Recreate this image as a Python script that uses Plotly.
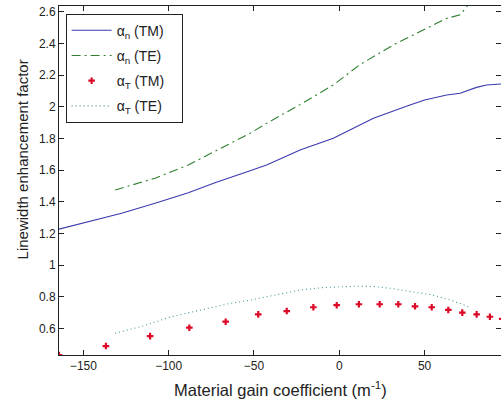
import plotly.graph_objects as go

# alpha_n (TM) - blue solid
tm_n_x = [-166, -147, -127.6, -108, -88.5, -72.9, -62.1, -52.3, -42.6, -23, -3.5, 12.1, 20, 41.4, 50, 63, 70.8, 80.5, 86.4, 95]
tm_n_y = [1.222, 1.274, 1.327, 1.39, 1.457, 1.52, 1.558, 1.595, 1.632, 1.726, 1.80, 1.884, 1.927, 2.01, 2.042, 2.074, 2.085, 2.122, 2.137, 2.143]

# alpha_n (TE) - green dash-dot
te_n_x = [-131.4, -108, -88.5, -72.9, -62.1, -52.3, -42.6, -23, -3.5, 12, 31.7, 51.2, 63, 70.8, 74.7, 78]
te_n_y = [1.474, 1.548, 1.632, 1.716, 1.779, 1.832, 1.895, 2.013, 2.137, 2.265, 2.39, 2.495, 2.558, 2.58, 2.63, 2.75]

# alpha_T (TM) - red markers
tm_t_x = [-164.3, -136.8, -110.9, -87.9, -66.6, -47.5, -30.8, -15.2, -1.5, 11.5, 23.7, 34.6, 44.4, 54.2, 63.9, 72.1, 80.5, 88.3, 95.5]
tm_t_y = [0.431, 0.488, 0.551, 0.604, 0.642, 0.688, 0.709, 0.733, 0.746, 0.752, 0.752, 0.752, 0.739, 0.733, 0.716, 0.699, 0.688, 0.673, 0.66]

# alpha_T (TE) - teal dotted
te_t_x = [-131.4, -115, -99, -80, -65, -52, -35, -23, -10, 0, 10, 20, 30, 40, 54, 65, 75.6]
te_t_y = [0.569, 0.615, 0.672, 0.72, 0.755, 0.779, 0.818, 0.842, 0.857, 0.863, 0.866, 0.864, 0.853, 0.835, 0.812, 0.779, 0.738]

x_ticks = [-150, -100, -50, 0, 50]
y_ticks = [0.6, 0.8, 1.0, 1.2, 1.4, 1.6, 1.8, 2.0, 2.2, 2.4, 2.6]
y_tick_labels = ["0.6", "0.8", "1", "1.2", "1.4", "1.6", "1.8", "2", "2.2", "2.4", "2.6"]
x_title = "Material gain coefficient (m<sup>-1</sup>)"
y_title = "Linewidth enhancement factor"

FONT = "Liberation Sans, Arial, sans-serif"
PAD = "\u00a0\u00a0\u00a0"

fig = go.Figure()
fig.add_trace(go.Scatter(x=tm_n_x, y=tm_n_y, mode="lines", name="α<sub>n</sub> (TM)" + PAD,
                         line=dict(color="#3a3aae", width=1.1), legendgroup="a"))
fig.add_trace(go.Scatter(x=te_n_x, y=te_n_y, mode="lines", name="α<sub>n</sub> (TE)" + PAD,
                         line=dict(color="#2f802f", width=1.1, dash="9px,4px,2px,4px"), legendgroup="b"))
fig.add_trace(go.Scatter(x=tm_t_x, y=tm_t_y, mode="markers", name="α<sub>T</sub> (TM)" + PAD,
                         marker=dict(color="#dc0a26", size=5.5, symbol="cross", line=dict(width=0)),
                         legendgroup="c"))
fig.add_trace(go.Scatter(x=te_t_x, y=te_t_y, mode="lines", name="α<sub>T</sub> (TE)" + PAD,
                         line=dict(color="#3f9a9a", width=1.1, dash="1px,3px"), legendgroup="d"))

axis_common = dict(showline=True, linecolor="#222", linewidth=1, mirror="ticks",
                   ticks="inside", ticklen=5, tickcolor="#222", showgrid=False, zeroline=False,
                   automargin=False,
                   tickfont=dict(family=FONT, size=12, color="#222"))

fig.update_layout(
    width=501, height=403,
    margin=dict(l=59, r=0, t=6, b=48, autoexpand=False),
    paper_bgcolor="white", plot_bgcolor="white",
    font=dict(family=FONT, size=13, color="#222"),
    xaxis=dict(range=[-164.3, 94.8], tickvals=x_ticks, **axis_common),
    yaxis=dict(range=[0.4315, 2.636], tickvals=y_ticks, ticktext=y_tick_labels, **axis_common),
    annotations=[
        dict(text=x_title, xref="paper", yref="paper", x=0.5, y=-0.097,
             xanchor="center", yanchor="middle", showarrow=False,
             font=dict(family=FONT, size=16.5, color="#222")),
        dict(text=y_title, xref="paper", yref="paper", x=-0.0825, y=0.559,
             xanchor="center", yanchor="middle", showarrow=False, textangle=-90,
             font=dict(family=FONT, size=15, color="#222")),
    ],
    showlegend=True,
    legend=dict(x=0.015, y=0.978, xanchor="left", yanchor="top",
                bgcolor="white", bordercolor="#222", borderwidth=1,
                font=dict(family=FONT, size=14, color="#222"),
                tracegroupgap=4, itemwidth=40),
)

fig.write_html("out.html", config={"displayModeBar": False},
               post_script="document.body.style.margin='0';document.body.style.overflow='hidden';")
